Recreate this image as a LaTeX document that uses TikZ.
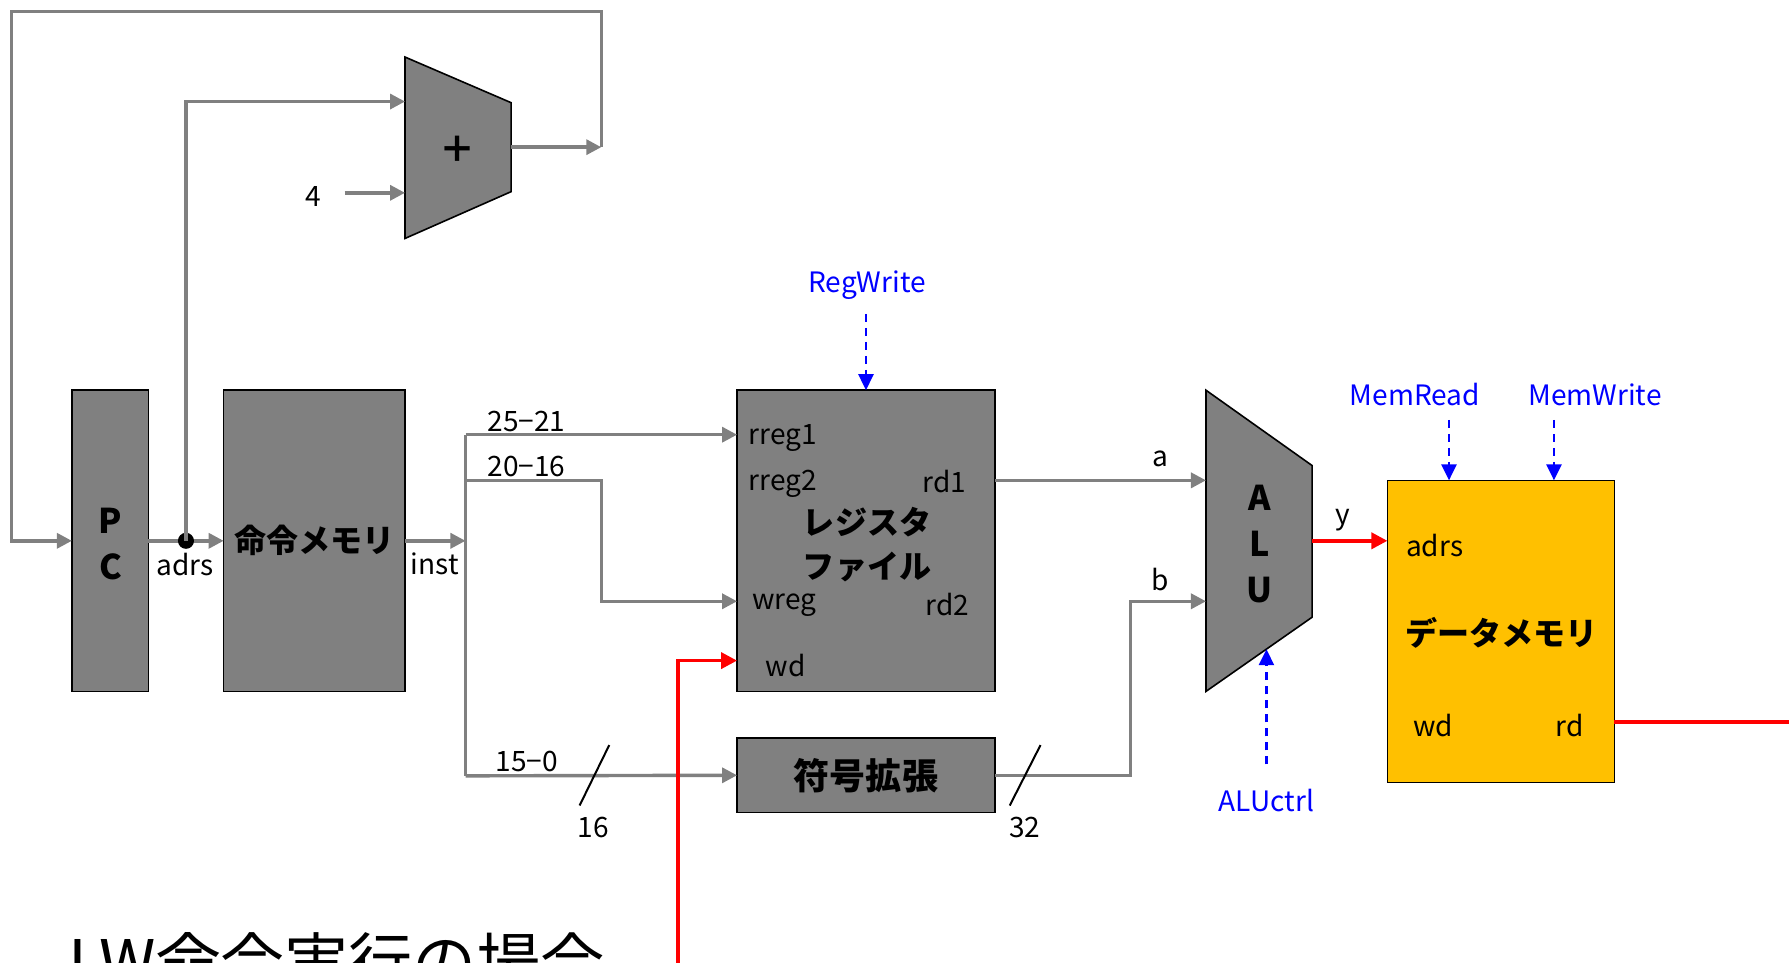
\documentclass[tikz,border=0pt]{standalone}
\usepackage{fontspec}
\setmainfont{Noto Sans CJK JP}
\usetikzlibrary{arrows.meta,calc}
\definecolor{gfill}{HTML}{808080}
\definecolor{gline}{HTML}{808080}
\definecolor{ored}{HTML}{FF0000}
\definecolor{oblue}{HTML}{0000FF}
\definecolor{dorange}{HTML}{FFC000}
\begin{document}
\begin{tikzpicture}[x=0.02cm,y=-0.02cm,
  box/.style={draw=black, line width=0.8pt, fill=gfill, inner sep=0pt, outer sep=0pt},
  ghost/.style={inner sep=0pt, outer sep=0pt},
  wire/.style={draw=gline, line width=1.7pt},
  garrow/.style={wire, -{Triangle[length=7.5pt,width=7.5pt]}},
  rwire/.style={draw=ored, line width=1.8pt},
  rarrow/.style={rwire, -{Triangle[length=8pt,width=8pt]}},
  carrow/.style={draw=oblue, line width=1.2pt, dash pattern=on 4pt off 3pt, -{Triangle[length=8pt,width=7.5pt]}},
  lbl/.style={font=\fontsize{14}{16}\selectfont, inner sep=0pt},
  clbl/.style={lbl, text=oblue},
  big/.style={font=\fontsize{16}{22}\selectfont\bfseries, align=center},
  letters/.style={font=\fontsize{17}{22.8}\selectfont\bfseries, align=center, inner sep=0pt},
  slash/.style={draw=black, line width=1pt}
]
\useasboundingbox (0,0) rectangle (1568,844);

% blocks
\node[box, big, minimum width=1.34cm, minimum height=5.28cm] (pc) at (96.5,474) {};
\node[letters] (pctext) at (97,477) {P\\C};
\node[box, big, minimum width=3.18cm, minimum height=5.28cm] (imem) at (275.5,474) {命令メモリ};
\node[box, minimum width=4.52cm, minimum height=5.28cm] (regf) at (759,474) {};
\node[big, inner sep=0pt] (regftext) at (760,477) {レジスタ\\ファイル};
\node[box, big, font=\fontsize{18}{22}\selectfont\bfseries, minimum width=4.52cm, minimum height=1.30cm] (sext) at (759,679.5) {符号拡張};
\node[box, fill=dorange, minimum width=3.98cm, minimum height=5.30cm] (dmem) at (1315.5,553.5) {};
\node[big, inner sep=0pt] (dmemtext) at (1316,555) {データメモリ};

% adder
\node[ghost, minimum width=1.86cm, minimum height=3.18cm] (add) at (401.5,129.5) {};
\draw[box] (add.north west) -- ($(add.north east)+(0,40)$) -- ($(add.south east)+(0,-41)$) -- (add.south west) -- cycle;
\node[font=\fontsize{18}{18}\selectfont\bfseries, inner sep=0pt] (plus) at (401,131) {＋};

% ALU
\node[ghost, minimum width=1.86cm, minimum height=5.28cm] (alu) at (1103.5,474) {};
\draw[box] (alu.north west) -- ($(alu.north east)+(0,66)$) -- ($(alu.south east)+(0,-65)$) -- (alu.south west) -- cycle;
\node[letters] (alutext) at (1104,477) {A\\L\\U};

% coordinates
\coordinate (j) at (163,474);
\coordinate (addA) at (355,89);
\coordinate (addB) at (355,169);
\coordinate (addO) at (448,129);
\coordinate (fb) at (527,129);
\coordinate (fourout) at (302,169);
\coordinate (bus) at (408,474);
\coordinate (b1) at (408,381);
\coordinate (b2) at (408,421);
\coordinate (b3) at (408,680);
\coordinate (wregy) at (0,527);
\coordinate (wdy) at (0,579);
\coordinate (redbot) at (594,850);
\coordinate (aluy) at (1150,474);
\coordinate (rdy) at (0,633);
\coordinate (rdend) at (1575,633);
\coordinate (regwS) at (759,275);
\coordinate (mrS) at (1270,368);
\coordinate (mwS) at (1362,368);
\coordinate (alucS) at (1110,670);
\coordinate (alucT) at (1110,569);

% gray wires
\draw[garrow] (pc.east) -- (imem.west);
\fill (j) circle[radius=4pt];
\draw[garrow] (j) |- (addA);
\node[lbl] (four) at (275,172) {4};
\draw[garrow] (fourout) -- (addB);
\draw[garrow] (addO) -- (fb);
\draw[garrow] (fb) -- (527,10) -- (10,10) |- (pc.west);
\draw[garrow] (imem.east) -- (bus);
\draw[wire] (b1) -- (b3);
\draw[garrow] (b1) -- (regf.west |- b1);
\draw[garrow] (b2) -- (527,421) |- (regf.west |- wregy);
\draw[garrow] (b3) -- (sext.west);
\draw[garrow] (regf.east |- b2) -- (alu.west |- b2);
\draw[garrow] (sext.east) -- (991,679.5) |- (alu.west |- wregy);

% red wires
\draw[rarrow] (redbot) |- (regf.west |- wdy);
\draw[rarrow] (aluy) -- (dmem.west |- aluy);
\draw[rwire] (dmem.east |- rdy) -- (rdend);

% control
\node[clbl] (regw) at (760,250) {RegWrite};
\draw[carrow] (regwS) -- (regf.north);
\node[clbl] (mr) at (1240,346) {MemRead};
\draw[carrow] (mrS) -- (dmem.north -| mrS);
\node[clbl] (mw) at (1398,346) {MemWrite};
\draw[carrow] (mwS) -- (dmem.north -| mwS);
\node[clbl] (aluc) at (1110,702) {ALUctrl};
\draw[carrow] (alucS) -- (alucT);

% slashes
\draw[slash] (508,706) -- (534,653);
\draw[slash] (885,706) -- (912,653);

% labels
\node[lbl] (ladrs) at (162,495) {adrs};
\node[lbl] (linst) at (381,494) {inst};
\node[lbl, anchor=west] (l2521) at (427,369) {25−21};
\node[lbl, anchor=west] (l2016) at (427,409) {20−16};
\node[lbl, anchor=west] (l150) at (434,667) {15−0};
\node[lbl] (l16) at (520,725) {16};
\node[lbl] (l32) at (898,725) {32};
\node[lbl] (la) at (1017,402) {a};
\node[lbl] (lb) at (1017,508) {b};
\node[lbl] (ly) at (1177,456) {y};
\node[lbl, anchor=west] (rreg1) at (656,384) {rreg1};
\node[lbl, anchor=west] (rreg2) at (656,424) {rreg2};
\node[lbl, anchor=east] (rd1) at (847,422) {rd1};
\node[lbl, anchor=west] (wreg) at (659,530) {wreg};
\node[lbl, anchor=east] (rd2) at (850,530) {rd2};
\node[lbl, anchor=west] (wd) at (671,583) {wd};
\node[lbl, anchor=west] (dadrs) at (1232,478) {adrs};
\node[lbl] (dwd) at (1256,636) {wd};
\node[lbl] (drd) at (1376,636) {rd};

% title (cut off by the lower edge, as in the reference)
\node[font=\fontsize{32}{32}\selectfont, anchor=base west, inner sep=0pt] (title) at (60,865) {LW命令実行の場合};
\end{tikzpicture}
\end{document}
